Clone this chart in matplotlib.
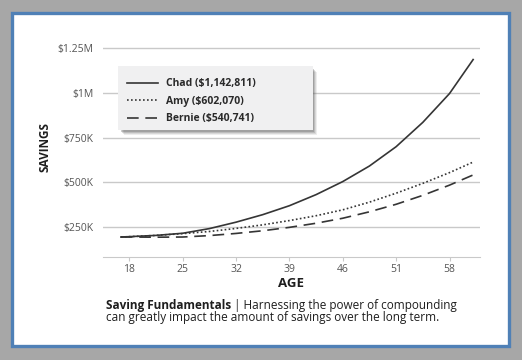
import matplotlib.pyplot as plt
from matplotlib.patches import Rectangle

plt.rcParams['font.family'] = ['Open Sans', 'DejaVu Sans']

# age positions on the chart axis (tick labels below are what is printed)
ages = [16.9, 18, 21.5, 25, 28.5, 32, 35.5, 39, 42.5, 46, 49.5, 53, 56.5, 60, 63.1]
chad = [195, 197, 204, 216, 242, 278, 320, 370, 432, 505, 592, 700, 836, 997, 1187]
amy = [195, 197, 204, 214, 226, 243, 263, 287, 314, 347, 390, 440, 495, 555, 614]
bernie = [195, 195, 194, 195, 203, 215, 230, 249, 272, 300, 336, 378, 428, 485, 542]

tick_pos = [18, 25, 32, 39, 46, 53, 60]
tick_labels = ['18', '25', '32', '39', '46', '51', '58']
y_ticks = [250000, 500000, 750000, 1000000, 1250000]
y_labels = ['$250K', '$500K', '$750K', '$1M', '$1.25M']

W, H = 522, 360
fig = plt.figure(figsize=(W / 100, H / 100), dpi=100)
fig.patch.set_facecolor('#a7a7a7')

def px_rect(x0, y0, x1, y1, target=None, **kw):
    r = Rectangle((x0 / W, 1 - y1 / H), (x1 - x0) / W, (y1 - y0) / H,
                  transform=fig.transFigure, **kw)
    if target is None:
        fig.patches.append(r)
    else:
        r.set_clip_on(False)
        target.add_patch(r)
    return r

# white card with blue border
px_rect(12, 13, 509, 346, facecolor='white', edgecolor='#4f80b6', linewidth=2.4,
        zorder=-10)

ax = fig.add_axes([103 / W, 1 - 256.7 / H, 377 / W, (256.7 - 46.5) / H])
ax.set_facecolor('none')

k = 1000
ax.plot(ages, [v * k for v in chad], color='#353535', lw=1.2, ls='-',
        label='Chad ($1,142,811)')
ax.plot(ages, [v * k for v in amy], color='#353535', lw=1.2, ls=(0, (1, 1.4)),
        label='Amy ($602,070)')
ax.plot(ages, [v * k for v in bernie], color='#353535', lw=1.2, ls=(0, (7, 4)),
        label='Bernie ($540,741)')

ax.set_xlim(14.55, 64.0)
ax.set_ylim(85000, 1260000)
ax.set_xticks(tick_pos)
ax.set_xticklabels(tick_labels)
ax.set_yticks(y_ticks)
ax.set_yticklabels(y_labels)
ax.grid(axis='y', color='#c9c9c9', lw=1)
ax.set_axisbelow(True)
for s in ['top', 'right', 'left']:
    ax.spines[s].set_visible(False)
ax.spines['bottom'].set_color('#c9c9c9')
ax.tick_params(axis='x', colors='#c9c9c9', length=3, labelcolor='#555555',
               labelsize=7.5, pad=2)
ax.tick_params(axis='y', length=0, labelcolor='#555555', labelsize=7.5, pad=7)

ax.set_xlabel('AGE', fontsize=9.5, fontweight='bold', color='#1e1e1e', labelpad=2)
fig.text(45 / W, 1 - 147 / H, 'SAVINGS', rotation=90, fontsize=8.5, fontweight='bold',
         color='#1e1e1e', ha='center', va='center')

# legend card with a soft shadow, drawn above the gridlines
for i, a in enumerate([0.10, 0.14, 0.20, 0.28]):
    d = 4 - i
    px_rect(120 + d, 68 + d, 313 + d, 131 + d, target=ax, facecolor='#555555',
            edgecolor='none', alpha=a, zorder=3)
px_rect(118, 66, 313, 130, target=ax, facecolor='#f0f0f1', edgecolor='none',
        zorder=3.5)

leg = ax.legend(loc='upper left', bbox_to_anchor=(119 / W, 1 - 70 / H),
                bbox_transform=fig.transFigure, frameon=False,
                prop={'size': 7.5, 'weight': 'bold'}, handlelength=2.9,
                handletextpad=0.85, labelspacing=0.62, borderpad=0.8,
                borderaxespad=0)
for t in leg.get_texts():
    t.set_color('#2a2a2a')

t1 = fig.text(105.7 / W, 1 - 306 / H, 'Saving Fundamentals', fontsize=8.5,
              fontweight='bold', color='#1e1e1e', va='center')
fig.canvas.draw()
bb = t1.get_window_extent()
fig.text(bb.x1 / W, 1 - 306 / H, ' | Harnessing the power of compounding',
         fontsize=8.5, color='#1e1e1e', va='center')
fig.text(105.7 / W, 1 - 318 / H,
         'can greatly impact the amount of savings over the long term.',
         fontsize=8.5, color='#1e1e1e', va='center')

fig.savefig('out.png', dpi=100, facecolor=fig.get_facecolor())
